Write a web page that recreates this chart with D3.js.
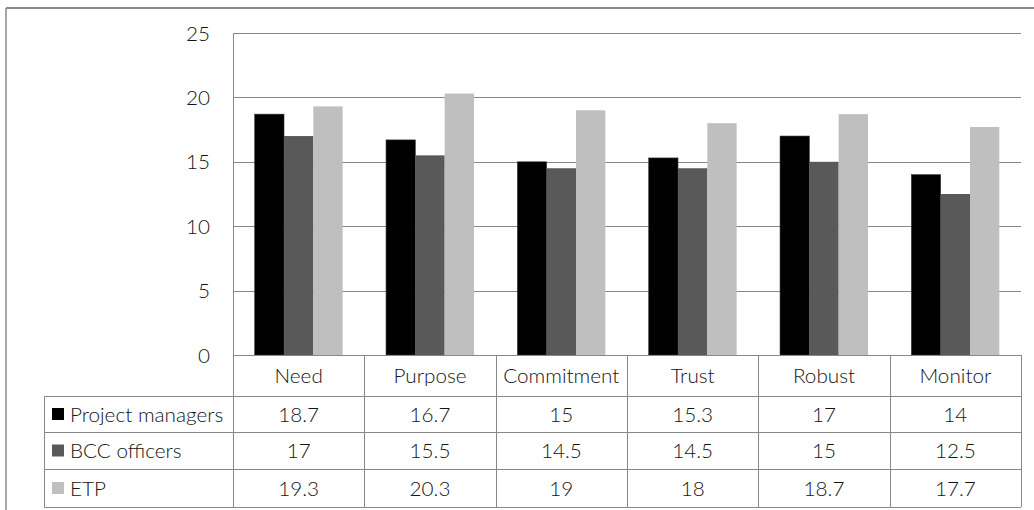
<!DOCTYPE html>
<html>
<head>
<meta charset="utf-8">
<script src="https://cdn.jsdelivr.net/npm/d3@7"></script>
<style>
  html, body { margin: 0; padding: 0; background: #fff; }
  svg { display: block; }
  text { font-family: Lato, "Open Sans", sans-serif; fill: #141414; font-size: 19px; font-weight: 300; }
</style>
</head>
<body>
<svg id="chart" width="1034" height="510"></svg>
<script>
// Scores per criterion for each respondent group
const categories = ["Need", "Purpose", "Commitment", "Trust", "Robust", "Monitor"];
const seriesNames = ["Project managers", "BCC officers", "ETP"];
const projectManagers = [18.7, 16.7, 15, 15.3, 17, 14];
const bccOfficers = [17, 15.5, 14.5, 14.5, 15, 12.5];
const etp = [19.3, 20.3, 19, 18, 18.7, 17.7];
const yTicks = [0, 5, 10, 15, 20, 25];
const seriesColors = ["#000000", "#595959", "#bfbfbf"];

const series = [projectManagers, bccOfficers, etp];

const svg = d3.select("#chart");
const plot = { left: 233, right: 1021, top: 33, bottom: 355 };
const tableLeft = 44;
const rowEdges = [355, 396, 432, 469, 507];
const gridColor = "#888888";
const stretch = 1.09; // wide letterforms

// text placed at (tx, ty) and widened horizontally
function label(parent, tx, ty, str, anchor) {
  return parent.append("text")
    .attr("transform", `translate(${tx},${ty}) scale(${stretch},1)`)
    .attr("text-anchor", anchor)
    .attr("dominant-baseline", "central")
    .text(str);
}

// outer frame
svg.append("line").attr("x1", 6).attr("x2", 1034).attr("y1", 8).attr("y2", 8)
  .attr("stroke", "#8a8a8a").attr("stroke-width", 2);
svg.append("line").attr("x1", 6).attr("x2", 6).attr("y1", 8).attr("y2", 510)
  .attr("stroke", "#8a8a8a").attr("stroke-width", 1.5);

const x = d3.scaleBand().domain(categories).range([plot.left, plot.right]);
const xInner = d3.scaleBand().domain(seriesNames)
  .range([0, x.bandwidth()]).paddingOuter(0.74).paddingInner(0);
const y = d3.scaleLinear().domain([0, 25]).range([plot.bottom, plot.top]);

// gridlines
svg.append("g").selectAll("line").data(yTicks.filter(t => t > 0)).join("line")
  .attr("x1", plot.left).attr("x2", plot.right)
  .attr("y1", d => Math.round(y(d)) + 0.5).attr("y2", d => Math.round(y(d)) + 0.5)
  .attr("stroke", gridColor).attr("stroke-width", 1);

// y axis labels
const yg = svg.append("g");
yTicks.forEach(t => label(yg, 210, y(t), String(t), "end"));

// bars
const groups = svg.append("g").selectAll("g").data(categories).join("g")
  .attr("transform", c => `translate(${x(c)},0)`);
groups.selectAll("rect")
  .data((c, i) => seriesNames.map((s, k) => ({ s, k, v: series[k][i] })))
  .join("rect")
  .attr("x", d => xInner(d.s))
  .attr("width", xInner.bandwidth())
  .attr("y", d => y(d.v))
  .attr("height", d => y(0) - y(d.v))
  .attr("fill", d => seriesColors[d.k])
  .attr("stroke", d => d.k === 0 ? "#3a3a3a" : "none")
  .attr("stroke-width", 0.6);

// data table
const tg = svg.append("g");
const lineAttrs = sel => sel.attr("stroke", gridColor).attr("stroke-width", 1);

// horizontal rules
rowEdges.forEach((ry, i) => {
  tg.append("line").call(lineAttrs)
    .attr("x1", i === 0 ? plot.left : tableLeft).attr("x2", plot.right)
    .attr("y1", ry + 0.5).attr("y2", ry + 0.5);
});
// vertical rules
tg.append("line").call(lineAttrs)
  .attr("x1", tableLeft + 0.5).attr("x2", tableLeft + 0.5)
  .attr("y1", rowEdges[1]).attr("y2", rowEdges[4]);
tg.append("line").call(lineAttrs)
  .attr("x1", plot.left + 0.5).attr("x2", plot.left + 0.5)
  .attr("y1", plot.top).attr("y2", rowEdges[4]);
categories.forEach(c => {
  const xe = Math.round(x(c) + x.bandwidth()) + 0.5;
  tg.append("line").call(lineAttrs)
    .attr("x1", xe).attr("x2", xe).attr("y1", rowEdges[0]).attr("y2", rowEdges[4]);
});

// header labels
categories.forEach(c =>
  label(tg, x(c) + x.bandwidth() / 2, (rowEdges[0] + rowEdges[1]) / 2, c, "middle"));

// rows: legend key + values
seriesNames.forEach((name, k) => {
  const cy = (rowEdges[k + 1] + rowEdges[k + 2]) / 2;
  tg.append("rect").attr("x", 52).attr("y", cy - 6).attr("width", 12).attr("height", 12)
    .attr("fill", seriesColors[k]);
  label(tg, 70, cy, name, "start");
  series[k].forEach((v, i) =>
    label(tg, x(categories[i]) + x.bandwidth() / 2, cy, String(v), "middle"));
});
</script>
</body>
</html>
